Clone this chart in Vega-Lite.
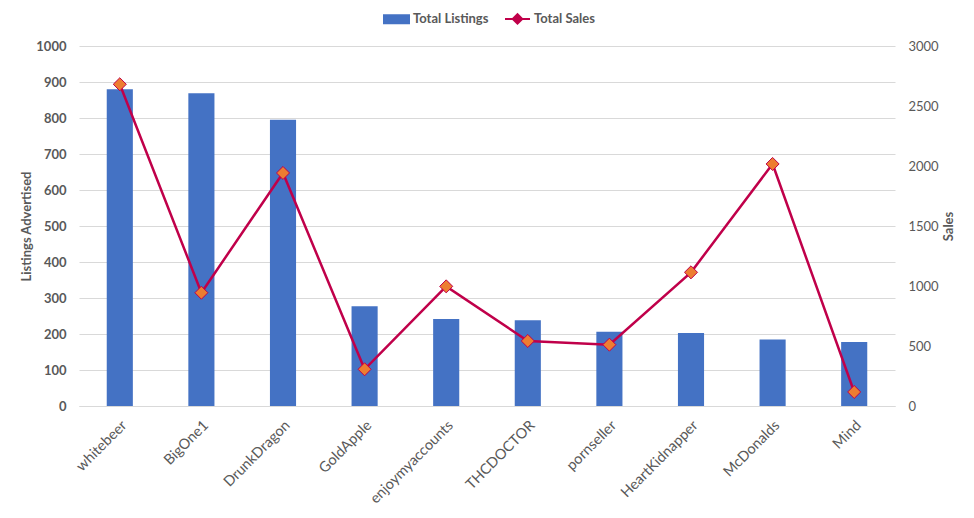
{
  "$schema": "https://vega.github.io/schema/vega-lite/v6.json",
  "width": 816,
  "height": 360,
  "autosize": {"type": "none"},
  "padding": {"left": 79, "top": 46, "right": 79, "bottom": 112},
  "background": "white",
  "config": {"view": {"stroke": null}, "font": "Lato"},
  "data": {
    "values": [
      {"seller": "whitebeer", "listings": 880, "sales": 2681},
      {"seller": "BigOne1", "listings": 869, "sales": 944},
      {"seller": "DrunkDragon", "listings": 795, "sales": 1942},
      {"seller": "GoldApple", "listings": 277, "sales": 306},
      {"seller": "enjoymyaccounts", "listings": 242, "sales": 997},
      {"seller": "THCDOCTOR", "listings": 238, "sales": 542},
      {"seller": "pornseller", "listings": 206, "sales": 511},
      {"seller": "HeartKidnapper", "listings": 203, "sales": 1114},
      {"seller": "McDonalds", "listings": 185, "sales": 2017},
      {"seller": "Mind", "listings": 178, "sales": 117}
    ]
  },
  "encoding": {
    "x": {
      "field": "seller",
      "type": "nominal",
      "sort": null,
      "scale": {"paddingInner": 0.68, "paddingOuter": 0.34},
      "axis": {
        "title": null,
        "labelAngle": -45,
        "labelFont": "Lato",
        "labelFontSize": 14.5,
        "labelColor": "#595959",
        "ticks": false,
        "domainColor": "#D9D9D9",
        "labelPadding": 12,
        "grid": false
      }
    }
  },
  "layer": [
    {
      "mark": {"type": "bar"},
      "encoding": {
        "y": {
          "field": "listings",
          "type": "quantitative",
          "scale": {"domain": [0, 1000]},
          "axis": {
            "title": "Listings Advertised",
            "values": [0, 100, 200, 300, 400, 500, 600, 700, 800, 900, 1000],
            "format": "d",
            "grid": true,
            "gridColor": "#D9D9D9",
            "domain": false,
            "ticks": false,
            "labelPadding": 13,
            "labelFont": "Lato",
            "labelFontWeight": "bold",
            "labelFontSize": 13,
            "labelColor": "#595959",
            "titleFont": "Lato",
            "titleFontSize": 13,
            "titleColor": "#595959",
            "titleFontWeight": "bold",
            "titlePadding": 2
          }
        },
        "color": {
          "datum": "Total Listings",
          "type": "nominal",
          "scale": {"domain": ["Total Listings", "Total Sales"], "range": ["#4472C4", "#C0004A"]},
          "legend": {
            "title": null,
            "orient": "none",
            "legendX": 304,
            "legendY": -41,
            "direction": "horizontal",
            "labelFont": "Lato",
            "labelFontSize": 13,
            "labelFontWeight": "bold",
            "labelColor": "#595959",
            "symbolSize": 625,
            "columnPadding": 12,
            "labelOffset": 3,
            "encode": {
              "symbols": {
                "update": {
                  "shape": {"signal": "datum.value === 'Total Listings' ? 'M-1,-0.32L1,-0.32L1,0.32L-1,0.32Z' : 'M-1,0L-0.38,0M-0.38,0L0,-0.38L0.38,0L0,0.38ZM0.38,0L1,0'"},
                  "fill": {"signal": "datum.value === 'Total Listings' ? '#4472C4' : '#ED7D31'"},
                  "stroke": {"signal": "datum.value === 'Total Listings' ? 'transparent' : '#C0004A'"},
                  "strokeWidth": {"value": 2},
                  "opacity": {"value": 1}
                }
              }
            }
          }
        }
      }
    },
    {
      "encoding": {
        "y": {
          "field": "sales",
          "type": "quantitative",
          "scale": {"domain": [0, 3000]},
          "axis": {
            "orient": "right",
            "title": "Sales",
            "titleAngle": 270,
            "titleBaseline": "top",
            "values": [0, 500, 1000, 1500, 2000, 2500, 3000],
            "format": "d",
            "grid": false,
            "domain": false,
            "ticks": false,
            "labelPadding": 13,
            "labelFont": "Lato",
            "labelFontSize": 13,
            "labelColor": "#595959",
            "titleFont": "Lato",
            "titleFontSize": 13,
            "titleColor": "#595959",
            "titleFontWeight": "bold",
            "titlePadding": 4
          }
        }
      },
      "layer": [
        {
          "mark": {"type": "line", "strokeWidth": 2.5},
          "encoding": {"color": {"datum": "Total Sales", "type": "nominal"}}
        },
        {
          "mark": {"type": "point", "shape": "diamond", "filled": true, "fill": "#ED7D31", "stroke": "#C0004A", "strokeWidth": 1, "size": 170, "opacity": 1}
        }
      ]
    }
  ],
  "resolve": {"scale": {"y": "independent"}}
}
